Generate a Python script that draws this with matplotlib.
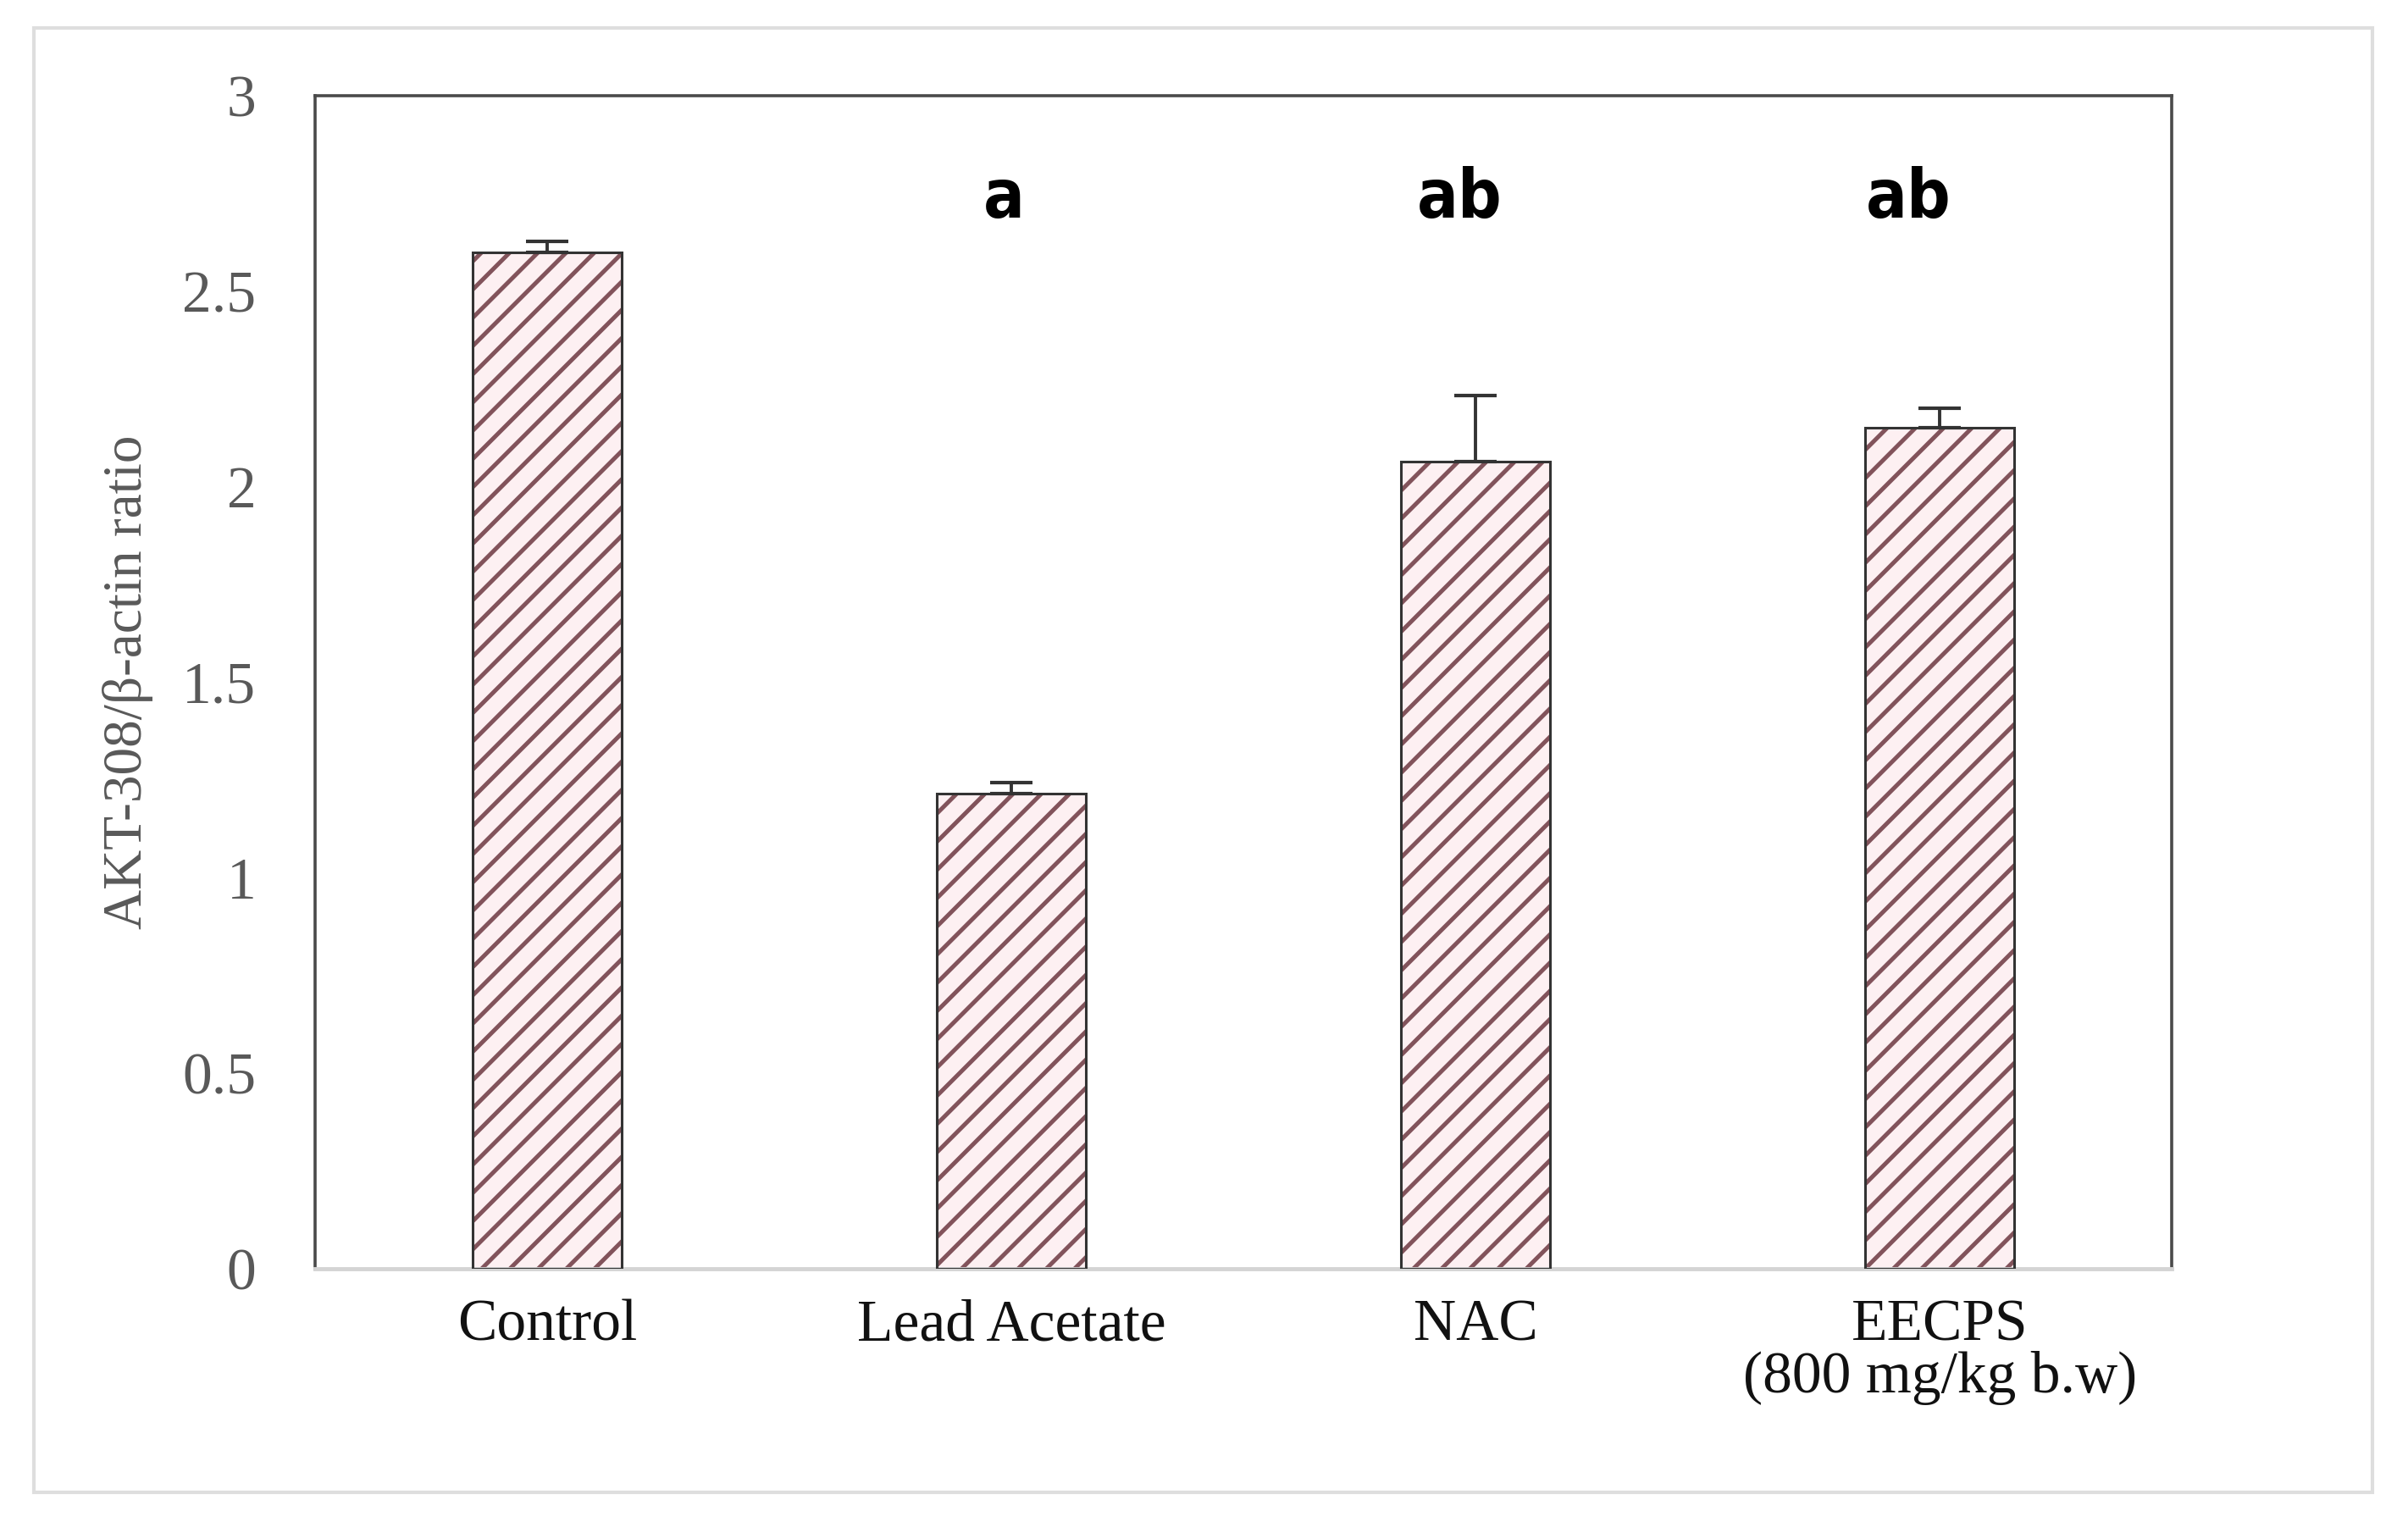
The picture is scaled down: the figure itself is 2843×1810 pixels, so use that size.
import matplotlib.pyplot as plt
import matplotlib.patches as patches
import numpy as np

# データ
categories = ["Control", "Lead Acetate", "NAC", "EECPS\n(800 mg/kg b.w)"]
values = [2.60, 1.215, 2.065, 2.15]
errors = [0.028, 0.028, 0.168, 0.05]
letters = ["", "a", "ab", "ab"]
letter_x = [0.0, 0.984, 1.965, 2.932]
letter_y = 2.735
yticks = [0, 0.5, 1, 1.5, 2, 2.5, 3]
ytick_labels = ["0", "0.5", "1", "1.5", "2", "2.5", "3"]

plt.rcParams["hatch.linewidth"] = 3.6

fig = plt.figure(figsize=(28.43, 18.10), dpi=100)
ax = fig.add_axes([0.1308, 0.1724, 0.7711, 0.7652])

x = np.arange(len(categories))
w = 0.32

# 斜線の棒（ハッチ色 = edgecolor）
ax.bar(x, values, w, color="#fdf0f2", edgecolor="#82535b", linewidth=0, hatch="/", zorder=2)
# 枠線
ax.bar(x, values, w, color="none", edgecolor="#333333", linewidth=2.2, zorder=3)

# 誤差棒（上側のみ）
ax.errorbar(x, values, yerr=[np.zeros(len(errors)), errors], fmt="none",
            ecolor="#333333", elinewidth=2.8, capsize=18, capthick=3.0, zorder=4)

# 有意差の文字
for lx, lt in zip(letter_x, letters):
    if lt:
        ax.text(lx, letter_y, lt, ha="center", va="center", fontsize=58,
                fontweight="bold", family="DejaVu Sans", fontstretch="condensed",
                color="black")

ax.set_xlim(-0.5, 3.5)
ax.set_ylim(0, 3)
ax.set_yticks(yticks)
ax.set_yticklabels(ytick_labels, family="Liberation Serif", fontsize=50, color="#595959")
ax.set_xticks(x)
ax.set_xticklabels(categories, family="Liberation Serif", fontsize=50, color="#111111",
                   linespacing=0.95)
ax.tick_params(axis="y", length=0, pad=50)
ax.tick_params(axis="x", length=0, pad=26)

ax.set_ylabel("AKT-308/β-actin ratio", family="Liberation Serif", fontsize=47, color="#595959")
ax.yaxis.set_label_coords(-0.087, 0.5)

# 軸の枠
for s in ["top", "left", "right"]:
    ax.spines[s].set_color("#4a4a4a")
    ax.spines[s].set_linewidth(2.6)
ax.spines["bottom"].set_color("#d4d4d4")
ax.spines["bottom"].set_linewidth(3.5)

# 外側の枠
fig.patches.append(patches.Rectangle((40 / 2843, 1 - 1762 / 1810), 2761 / 2843, 1729 / 1810,
                                     transform=fig.transFigure, fill=False,
                                     edgecolor="#dedede", linewidth=3))

fig.savefig("out.png", dpi=100, facecolor="white")
